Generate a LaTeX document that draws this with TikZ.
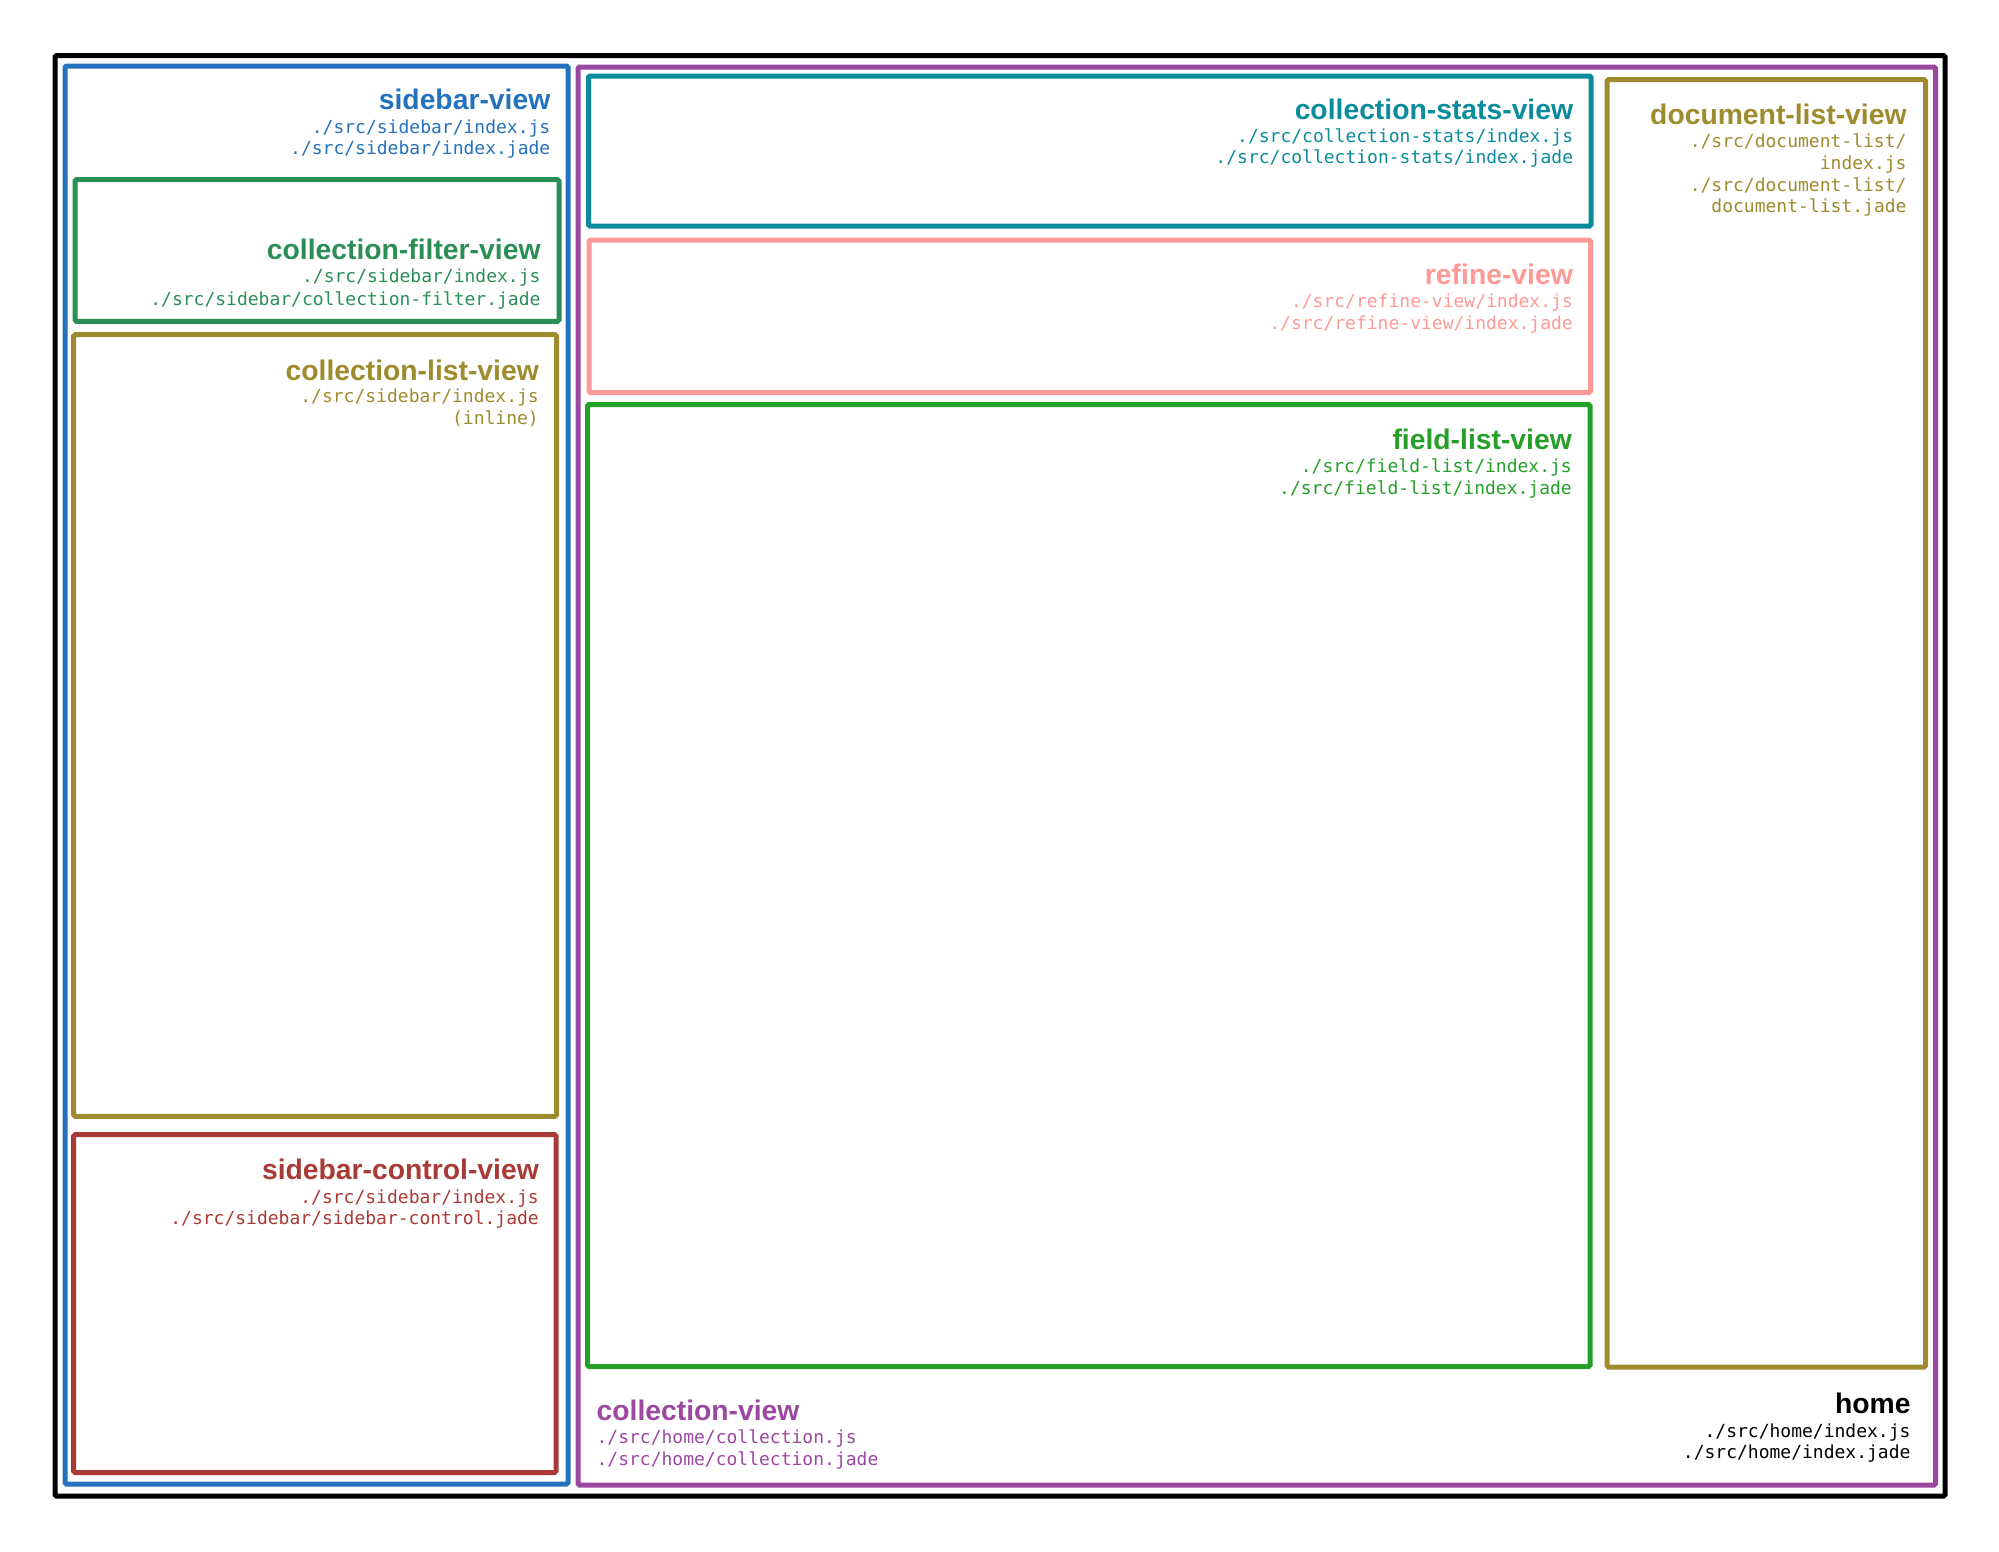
\documentclass[tikz,border=0pt]{standalone}
\usepackage{fontspec}
\setmainfont{Liberation Sans}
\newfontfamily\monof{DejaVu Sans Mono}
\definecolor{cblue}{RGB}{36,114,189}
\definecolor{cpurple}{RGB}{156,71,160}
\definecolor{cteal}{RGB}{10,140,156}
\definecolor{cpink}{RGB}{255,153,150}
\definecolor{cfield}{RGB}{36,160,41}
\definecolor{colive}{RGB}{158,139,46}
\definecolor{cfilter}{RGB}{42,143,85}
\definecolor{cred}{RGB}{169,58,53}
\tikzset{
  boxline/.style={line width=5pt, rounded corners=1.5pt},
  ttl/.style={inner sep=0pt, font=\fontsize{28.3}{34}\selectfont\bfseries},
  pth/.style={inner sep=0pt, font=\fontsize{18}{22}\selectfont\monof},
}
\begin{document}
\begin{tikzpicture}[x=1pt,y=-1pt]
\useasboundingbox (0,0) rectangle (1999,1551);
% boxes
\draw[boxline, black] (55,55.5) rectangle (1945,1496);
\draw[boxline, cblue] (65,66) rectangle (568,1484);
\draw[boxline, cpurple] (578,67) rectangle (1935.5,1485);
\draw[boxline, cteal] (588.5,76) rectangle (1591,226);
\draw[boxline, cpink] (589,240) rectangle (1590.5,392.5);
\draw[boxline, cfield] (587.5,404.5) rectangle (1590,1366.5);
\draw[boxline, colive] (1607,79.7) rectangle (1925.5,1367);
\draw[boxline, cfilter] (75,179.7) rectangle (559,321.3);
\draw[boxline, colive] (73.7,334.7) rectangle (556.5,1116.3);
\draw[boxline, cred] (73.7,1134.7) rectangle (556,1472.6);
% sidebar-view
\node[ttl, cblue, anchor=base east] (sbt) at (550.5,109.5) {sidebar-view};
\node[pth, cblue, anchor=base east] (sb1) at (550.5,133.3) {./src/sidebar/index.js};
\node[pth, cblue, anchor=base east] (sb2) at (550.5,154.8) {./src/sidebar/index.jade};
% collection-filter-view
\node[ttl, cfilter, anchor=base east] (cft) at (540.7,259.3) {collection-filter-view};
\node[pth, cfilter, anchor=base east] (cf1) at (540.7,282.7) {./src/sidebar/index.js};
\node[pth, cfilter, anchor=base east] (cf2) at (540.7,305) {./src/sidebar/collection-filter.jade};
% collection-list-view
\node[ttl, colive, anchor=base east] (clt) at (539,380) {collection-list-view};
\node[pth, colive, anchor=base east] (cl1) at (539,402.7) {./src/sidebar/index.js};
\node[pth, colive, anchor=base east] (cl2) at (539,424.3) {(inline)};
% sidebar-control-view
\node[ttl, cred, anchor=base east] (sct) at (539,1179.8) {sidebar-control-view};
\node[pth, cred, anchor=base east] (sc1) at (539,1203) {./src/sidebar/index.js};
\node[pth, cred, anchor=base east] (sc2) at (539,1224.5) {./src/sidebar/sidebar-control.jade};
% collection-stats-view
\node[ttl, cteal, anchor=base east] (cst) at (1573.3,119.3) {collection-stats-view};
\node[pth, cteal, anchor=base east] (cs1) at (1573.3,142.7) {./src/collection-stats/index.js};
\node[pth, cteal, anchor=base east] (cs2) at (1573.3,163.5) {./src/collection-stats/index.jade};
% refine-view
\node[ttl, cpink, anchor=base east] (rft) at (1573,284.5) {refine-view};
\node[pth, cpink, anchor=base east] (rf1) at (1573,307.5) {./src/refine-view/index.js};
\node[pth, cpink, anchor=base east] (rf2) at (1573,329.3) {./src/refine-view/index.jade};
% field-list-view
\node[ttl, cfield, anchor=base east] (flt) at (1572,449.3) {field-list-view};
\node[pth, cfield, anchor=base east] (fl1) at (1572,472.3) {./src/field-list/index.js};
\node[pth, cfield, anchor=base east] (fl2) at (1572,494) {./src/field-list/index.jade};
% document-list-view
\node[ttl, colive, anchor=base east] (dlt) at (1906.7,124.5) {document-list-view};
\node[pth, colive, anchor=base east] (dl1) at (1906.7,147.3) {./src/document-list/};
\node[pth, colive, anchor=base east] (dl2) at (1906.7,169.8) {index.js};
\node[pth, colive, anchor=base east] (dl3) at (1906.7,191.3) {./src/document-list/};
\node[pth, colive, anchor=base east] (dl4) at (1906.7,212.7) {document-list.jade};
% collection-view
\node[ttl, cpurple, anchor=base west] (cvt) at (596.4,1420.5) {collection-view};
\node[pth, cpurple, anchor=base west] (cv1) at (596.4,1443.5) {./src/home/collection.js};
\node[pth, cpurple, anchor=base west] (cv2) at (596.4,1465.2) {./src/home/collection.jade};
% home
\node[ttl, black, anchor=base east] (hmt) at (1910.7,1413.8) {home};
\node[pth, black, anchor=base east] (hm1) at (1910.7,1437) {./src/home/index.js};
\node[pth, black, anchor=base east] (hm2) at (1910.7,1458.9) {./src/home/index.jade};
\end{tikzpicture}
\end{document}
